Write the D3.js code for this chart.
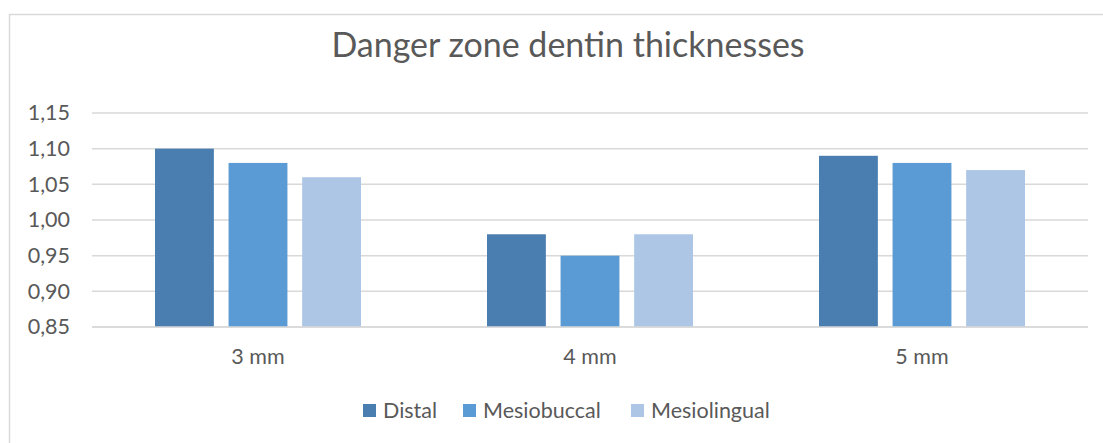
<!DOCTYPE html>
<html>
<head>
<meta charset="UTF-8">
<script src="https://cdn.jsdelivr.net/npm/d3@7"></script>
<style>
  body { margin: 0; background: #fff; overflow: hidden; }
  text { font-family: Lato, "Open Sans", sans-serif; fill: #595959; }
</style>
</head>
<body>
<svg id="chart" width="1103" height="443"></svg>
<script>
// data
const categories = ["3 mm", "4 mm", "5 mm"];
const seriesNames = ["Distal", "Mesiobuccal", "Mesiolingual"];
const distal = [1.10, 0.98, 1.09];
const mesiobuccal = [1.08, 0.95, 1.08];
const mesiolingual = [1.06, 0.98, 1.07];
const yTicks = [0.85, 0.90, 0.95, 1.00, 1.05, 1.10, 1.15];
const colors = ["#4a7eb0", "#5b9bd5", "#aec6e6"];

const seriesValues = [distal, mesiobuccal, mesiolingual];

const svg = d3.select("#chart");

// outer border
svg.append("rect")
  .attr("x", 9.5).attr("y", 14.5)
  .attr("width", 1110).attr("height", 450)
  .attr("fill", "none").attr("stroke", "#d9d9d9").attr("stroke-width", 1.5);

// title
svg.append("text")
  .attr("x", 568).attr("y", 57)
  .attr("text-anchor", "middle")
  .style("font-size", "34px")
  .text("Danger zone dentin thicknesses");

const plot = { left: 92, right: 1088, top: 113, bottom: 327 };

const x = d3.scaleBand().domain(categories).range([plot.left, plot.right]);
const y = d3.scaleLinear().domain([0.85, 1.15]).range([plot.bottom, plot.top]);
const xs = d3.scaleBand().domain(seriesNames)
  .range([63, x.bandwidth() - 63]).paddingInner(0.2);

// gridlines
svg.append("g").selectAll("line").data(yTicks).join("line")
  .attr("x1", plot.left).attr("x2", plot.right)
  .attr("y1", d => y(d)).attr("y2", d => y(d))
  .attr("stroke", "#d9d9d9").attr("stroke-width", 1.5);

// y axis labels
const fmt = d => d3.format(".2f")(d).replace(".", ",");
const yAxis = svg.append("g")
  .attr("transform", `translate(${plot.left - 22},0)`)
  .call(d3.axisLeft(y).tickValues(yTicks).tickFormat(fmt).tickSize(0).tickPadding(0));
yAxis.select(".domain").remove();
yAxis.selectAll("text").style("font-size", "21.5px").attr("fill", "#595959");

// bars
const groups = svg.append("g").selectAll("g").data(categories).join("g")
  .attr("transform", d => `translate(${x(d)},0)`);
groups.selectAll("rect")
  .data((c, i) => seriesNames.map((s, j) => ({ s, j, v: seriesValues[j][i] })))
  .join("rect")
  .attr("x", d => xs(d.s))
  .attr("width", xs.bandwidth())
  .attr("y", d => y(d.v))
  .attr("height", d => plot.bottom - y(d.v))
  .attr("fill", d => colors[d.j]);

// x axis line
svg.append("line")
  .attr("x1", plot.left).attr("x2", plot.right)
  .attr("y1", plot.bottom).attr("y2", plot.bottom)
  .attr("stroke", "#d9d9d9").attr("stroke-width", 1.5);

// x labels
const xAxis = svg.append("g")
  .attr("transform", `translate(0,${plot.bottom + 22})`)
  .call(d3.axisBottom(x).tickSize(0).tickPadding(0));
xAxis.select(".domain").remove();
xAxis.selectAll("text").style("font-size", "21.5px").attr("fill", "#595959");

// legend
const legendX = [363, 463, 631];
const legend = svg.append("g").selectAll("g").data(seriesNames).join("g")
  .attr("transform", (d, i) => `translate(${legendX[i]},404)`);
legend.append("rect")
  .attr("width", 13).attr("height", 13)
  .attr("fill", (d, i) => colors[i]);
legend.append("text")
  .attr("x", 20).attr("y", 6.5).attr("dy", "0.35em")
  .style("font-size", "21.5px")
  .text(d => d);
</script>
</body>
</html>
